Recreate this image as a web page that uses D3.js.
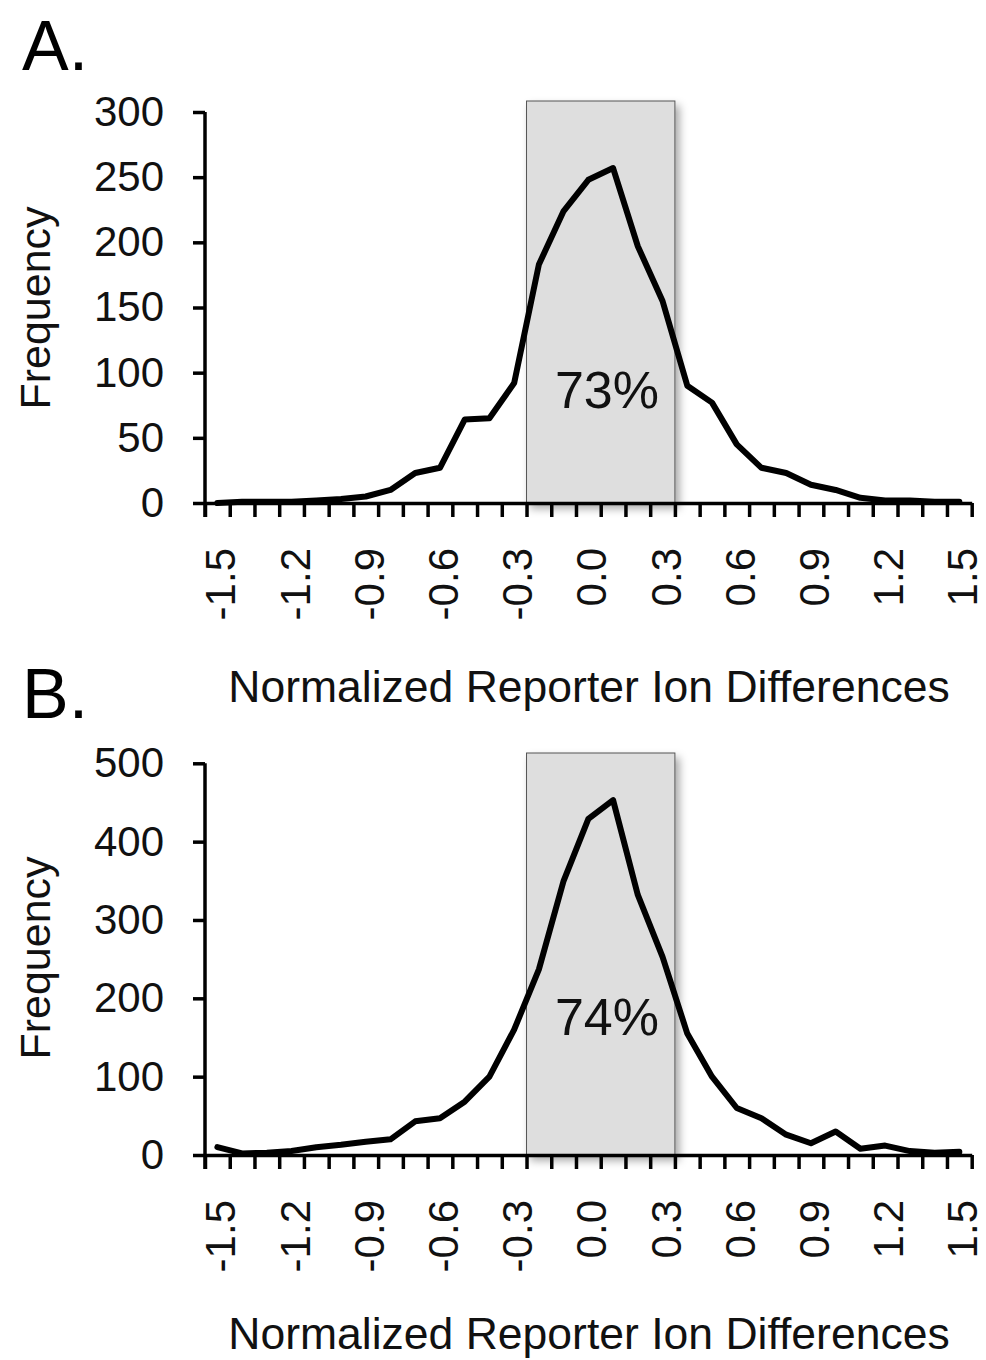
<!DOCTYPE html>
<html>
<head>
<meta charset="utf-8">
<script src="https://cdn.jsdelivr.net/npm/d3@7"></script>
<style>
  body { margin: 0; background: #fff; }
  svg { display: block; font-family: "Liberation Sans", Arial, sans-serif; }
  .axis path, .axis line { stroke: #000; stroke-width: 3.5; }
  .axis text { fill: #111; }
</style>
</head>
<body>
<svg id="chart" width="986" height="1360"></svg>
<script>
// category values on the x axis (bin centres)
var categories = [-1.5, -1.4, -1.3, -1.2, -1.1, -1.0, -0.9, -0.8, -0.7, -0.6, -0.5,
                  -0.4, -0.3, -0.2, -0.1, 0.0, 0.1, 0.2, 0.3, 0.4, 0.5,
                  0.6, 0.7, 0.8, 0.9, 1.0, 1.1, 1.2, 1.3, 1.4, 1.5];
var xLabels = [-1.5, -1.2, -0.9, -0.6, -0.3, 0.0, 0.3, 0.6, 0.9, 1.2, 1.5];

// panel A frequencies
var freqA = [0, 1, 1, 1, 2, 3, 5, 10, 23, 27, 64, 65, 92, 183, 224, 248,
             257, 197, 155, 90, 77, 45, 27, 23, 14, 10, 4, 2, 2, 1, 1];
var yTicksA = [0, 50, 100, 150, 200, 250, 300];

// panel B frequencies
var freqB = [10, 2, 3, 5, 10, 13, 17, 20, 43, 47, 68, 100, 160, 237, 350, 429,
             453, 332, 253, 155, 100, 60, 47, 26, 15, 30, 8, 12, 5, 3, 4];
var yTicksB = [0, 100, 200, 300, 400, 500];

// shaded interval (bin edges) and the share inside it
var bandRange = [-0.25, 0.35];
var pctA = "73%", pctB = "74%";

var svg = d3.select("#chart");

var defs = svg.append("defs");
defs.append("filter")
    .attr("id", "shadow")
    .attr("x", "-20%").attr("y", "-20%").attr("width", "150%").attr("height", "150%")
  .append("feDropShadow")
    .attr("dx", 4).attr("dy", 5)
    .attr("stdDeviation", 4)
    .attr("flood-color", "#000")
    .attr("flood-opacity", 0.35);

var x = d3.scaleLinear().domain([-1.55, 1.55]).range([205, 971.7]);
var edges = d3.range(0, 32).map(function(i) { return -1.55 + i * 0.1; });

function drawPanel(opt) {
  var y = d3.scaleLinear().domain([0, opt.yMax]).range([opt.y0, opt.yTop]);
  var g = svg.append("g");

  // shaded box
  g.append("rect")
      .attr("x", x(bandRange[0]))
      .attr("y", opt.boxTop)
      .attr("width", x(bandRange[1]) - x(bandRange[0]))
      .attr("height", opt.y0 - opt.boxTop)
      .attr("fill", "#dedede")
      .attr("stroke", "#555")
      .attr("stroke-width", 1)
      .attr("filter", "url(#shadow)");

  // x axis: ticks at bin edges
  g.append("g")
      .attr("class", "axis")
      .attr("transform", "translate(0," + opt.y0 + ")")
      .call(d3.axisBottom(x).tickValues(edges).tickSize(14).tickSizeOuter(0).tickFormat(""));

  // x labels at bin centres, rotated
  g.append("g")
      .selectAll("text")
      .data(xLabels)
      .enter().append("text")
      .attr("transform", function(d) { return "translate(" + (x(d) + 3) + "," + (opt.y0 + 45) + ") rotate(-90)"; })
      .attr("text-anchor", "end")
      .attr("dy", "0.36em")
      .attr("font-size", 42)
      .attr("fill", "#111")
      .text(function(d) { return d.toFixed(1); });

  // y axis
  var ya = g.append("g")
      .attr("class", "axis")
      .attr("transform", "translate(205,0)")
      .call(d3.axisLeft(y).tickValues(opt.yTicks).tickSize(12).tickSizeOuter(0).tickPadding(29));
  ya.selectAll("text").attr("font-size", 42).attr("font-family", null);
  ya.select(".domain").attr("d", "M0," + opt.yTop + "V" + (opt.y0 + 14));

  // line
  var line = d3.line()
      .x(function(d, i) { return x(categories[i]); })
      .y(function(d) { return y(d); });
  g.append("path")
      .datum(opt.values)
      .attr("d", line)
      .attr("fill", "none")
      .attr("stroke", "#000")
      .attr("stroke-width", 6)
      .attr("stroke-linejoin", "round")
      .attr("stroke-linecap", "round");

  // percent label
  g.append("text")
      .attr("x", 607)
      .attr("y", opt.pctY)
      .attr("text-anchor", "middle")
      .attr("font-size", 52)
      .attr("fill", "#111")
      .text(opt.pct);

  // axis titles
  g.append("text")
      .attr("transform", "translate(50," + opt.freqY + ") rotate(-90)")
      .attr("text-anchor", "middle")
      .attr("font-size", 43)
      .attr("fill", "#111")
      .text("Frequency");

  g.append("text")
      .attr("x", 589)
      .attr("y", opt.y0 + opt.titleDy)
      .attr("text-anchor", "middle")
      .attr("font-size", 44.5)
      .attr("fill", "#111")
      .text("Normalized Reporter Ion Differences");

  // panel letter
  g.append("text")
      .attr("x", 22)
      .attr("y", opt.letterY)
      .attr("font-size", 70)
      .attr("fill", "#000")
      .text(opt.letter);
}

drawPanel({ values: freqA, yMax: 300, yTicks: yTicksA, y0: 503, yTop: 112, boxTop: 101,
            pct: pctA, pctY: 408, freqY: 308, letter: "A.", letterY: 70, titleDy: 199 });
drawPanel({ values: freqB, yMax: 500, yTicks: yTicksB, y0: 1155, yTop: 763.3, boxTop: 753,
            pct: pctB, pctY: 1035, freqY: 958, letter: "B.", letterY: 718, titleDy: 194 });
</script>
</body>
</html>
